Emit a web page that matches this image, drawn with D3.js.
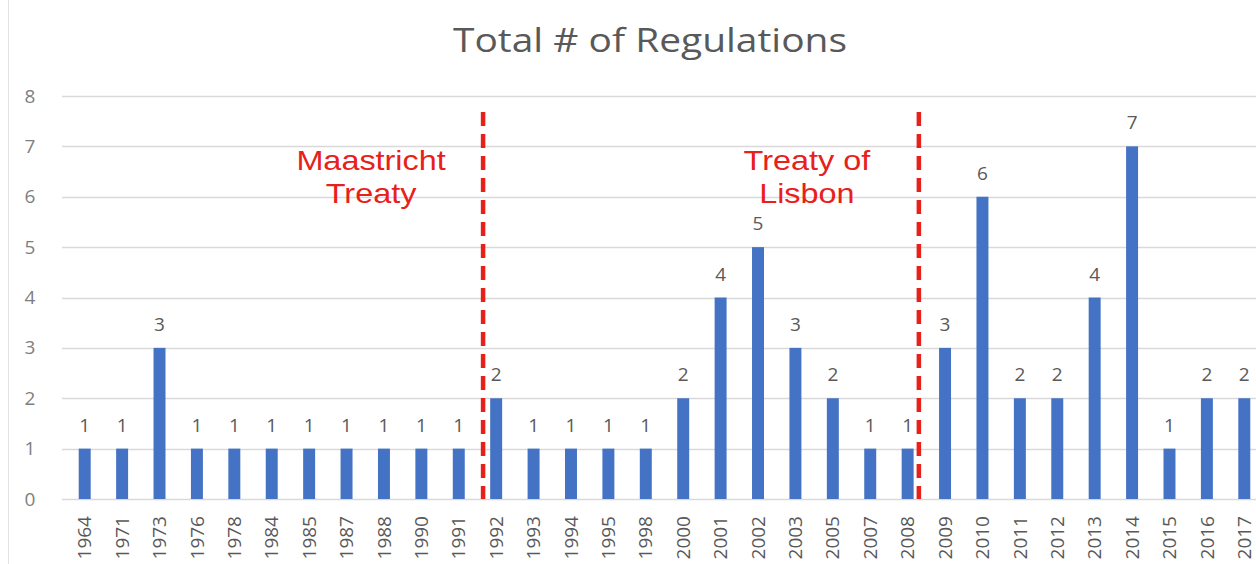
<!DOCTYPE html>
<html>
<head>
<meta charset="utf-8">
<script src="https://cdn.jsdelivr.net/npm/d3@7"></script>
<style>
  body { margin: 0; background: #fff; }
  svg { display: block; }
</style>
</head>
<body>
<svg width="1256" height="564"></svg>
<script>
const years = ["1964","1971","1973","1976","1978","1984","1985","1987","1988","1990","1991",
  "1992","1993","1994","1995","1998","2000","2001","2002","2003","2005","2007","2008",
  "2009","2010","2011","2012","2013","2014","2015","2016","2017"];
const counts = [1,1,3,1,1,1,1,1,1,1,1,2,1,1,1,1,2,4,5,3,2,1,1,3,6,2,2,4,7,1,2,2];
const yTicks = [0,1,2,3,4,5,6,7,8];
const markerYears = ["1991", "2008"];
const markerLabels = [["Maastricht", "Treaty"], ["Treaty of", "Lisbon"]];

const svg = d3.select("svg");
const W = 1256, H = 564;
const font = "'Open Sans', sans-serif";

var x = d3.scaleBand()
  .domain(years)
  .range([66, 1263])
  .paddingInner(0.68)
  .paddingOuter(0.34);

var y = d3.scaleLinear()
  .domain([0, 8])
  .range([499, 96]);

// left frame line
svg.append("line")
  .attr("x1", 8.5).attr("x2", 8.5)
  .attr("y1", 0).attr("y2", H)
  .attr("stroke", "#e3e3e3");

// title (the source picture is stretched sideways a bit)
svg.append("g")
  .attr("transform", "translate(650,0) scale(1.18,1)")
  .append("text")
  .attr("x", 0).attr("y", 52)
  .attr("text-anchor", "middle")
  .attr("font-family", font)
  .attr("font-size", 33)
  .attr("fill", "#595959")
  .text("Total # of Regulations");

// grid
svg.append("g").selectAll("line")
  .data(yTicks)
  .enter().append("line")
  .attr("x1", 62).attr("x2", W)
  .attr("y1", d => Math.round(y(d)) + 0.5)
  .attr("y2", d => Math.round(y(d)) + 0.5)
  .attr("stroke", "#d9d9d9")
  .attr("stroke-width", 1.5);

// y axis labels
var yAxis = svg.append("g")
  .attr("transform", "translate(30,0)")
  .call(d3.axisLeft(y).tickValues(yTicks).tickSize(0).tickPadding(0));
yAxis.select(".domain").remove();
yAxis.selectAll("text")
  .attr("font-family", font)
  .attr("font-size", 19)
  .attr("fill", "#7f7f7f")
  .attr("text-anchor", "middle");

// bars
svg.append("g").selectAll("rect")
  .data(years)
  .enter().append("rect")
  .attr("x", d => x(d))
  .attr("width", x.bandwidth())
  .attr("y", (d, i) => y(counts[i]))
  .attr("height", (d, i) => y(0) - y(counts[i]))
  .attr("fill", "#4472c4");

// value labels
svg.append("g").selectAll("text")
  .data(years)
  .enter().append("text")
  .attr("x", d => x(d) + x.bandwidth() / 2)
  .attr("y", (d, i) => y(counts[i]) - 17)
  .attr("text-anchor", "middle")
  .attr("font-family", font)
  .attr("font-size", 19)
  .attr("fill", "#595959")
  .text((d, i) => counts[i]);

// x axis labels
var xAxis = svg.append("g")
  .attr("transform", "translate(0," + y(0) + ")")
  .call(d3.axisBottom(x).tickSize(0).tickPadding(0));
xAxis.select(".domain").remove();
xAxis.selectAll("text")
  .attr("font-family", font)
  .attr("font-size", 19)
  .attr("fill", "#595959")
  .attr("text-anchor", "end")
  .attr("transform", "translate(0,17) rotate(-90)")
  .attr("dy", "0.35em")
  .attr("y", 0)
  .attr("x", 0);

// treaty markers
var step = x.step();
var offsets = [0.65, 0.3];
markerYears.forEach(function(yr, i) {
  var mx = x(yr) + x.bandwidth() / 2 + step * offsets[i];
  svg.append("line")
    .attr("x1", mx).attr("x2", mx)
    .attr("y1", y(7.68)).attr("y2", y(0))
    .attr("stroke", "#e8201a")
    .attr("stroke-width", 4.5)
    .attr("stroke-dasharray", "14,8");
  svg.append("g")
    .attr("transform", "translate(" + (mx - 112) + ",0) scale(1.2,1)")
    .append("text")
    .attr("font-family", "'Liberation Sans', Arial, sans-serif")
    .attr("font-size", 27)
    .attr("fill", "#e8201a")
    .attr("text-anchor", "middle")
    .selectAll("tspan")
    .data(markerLabels[i])
    .enter().append("tspan")
    .attr("x", 0)
    .attr("y", (d, j) => y(j === 0 ? 6.53 : 5.87))
    .text(d => d);
});
</script>
</body>
</html>
